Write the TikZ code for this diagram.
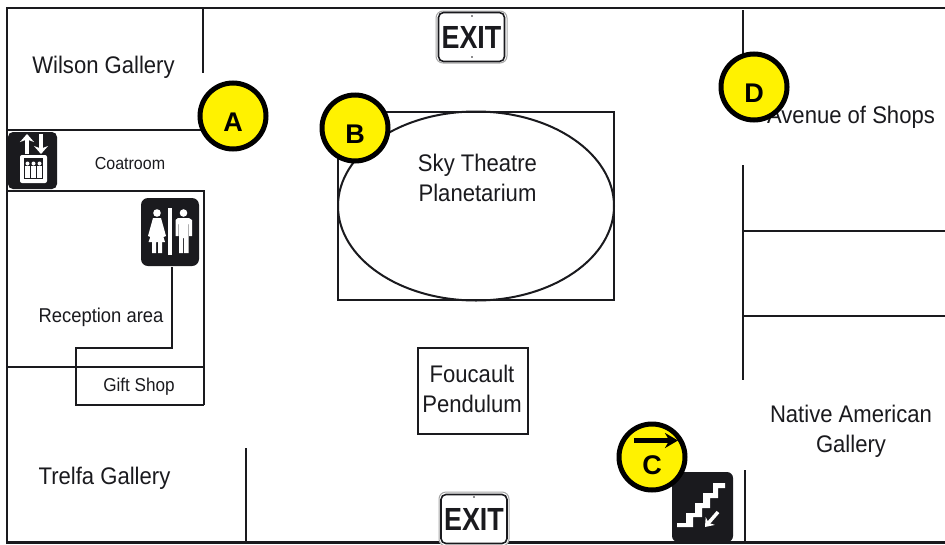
\documentclass[tikz,border=0pt]{standalone}
\usepackage{fontspec}
\setmainfont[FakeStretch=0.92]{Liberation Sans}
\newfontfamily\exitfont[FakeStretch=0.84]{Liberation Sans}
\newfontfamily\markfont{Liberation Sans}
\usetikzlibrary{arrows.meta}
\definecolor{ink}{HTML}{1A1A1E}
\tikzset{
  wall/.style={draw=ink,line width=2pt},
  lab/.style={text=ink,inner sep=0pt,align=center,font=\fontsize{24}{30}\selectfont},
  labs/.style={text=ink,inner sep=0pt,align=center,font=\fontsize{20}{22}\selectfont},
  marker/.style={circle,draw=black,fill=yellow,line width=5pt,minimum size=66pt,inner sep=0pt},
  letter/.style={inner sep=0pt,text=black,font=\markfont\fontsize{27}{30}\bfseries\selectfont},
  exitsign/.style={draw=ink,line width=1.6pt,fill=white,rounded corners=5pt,minimum width=66pt,minimum height=49pt,inner sep=0pt,text=ink,font=\exitfont\fontsize{32}{36}\bfseries\selectfont},
  exitrim/.style={draw=black!35,line width=1pt,fill=white,rounded corners=7pt},
  gline/.style={draw=white,line width=4.5pt}
}
\begin{document}
\begin{tikzpicture}[x=1pt,y=-1pt]
\useasboundingbox (0,0) rectangle (945,544);
\fill[white] (0,0) rectangle (945,544);
% outer walls
\draw[wall,line width=2.4pt] (945,8) -- (7,8) -- (7,544);
\draw[wall,line width=3pt] (7,542.5) -- (945,542.5);
% left rooms
\draw[wall] (203,9) -- (203,73);
\draw[wall] (7,130) -- (205,130);
\draw[wall] (7,191) -- (204,191) -- (204,405);
\draw[wall] (7,367) -- (204,367);
\draw[wall] (172,267) -- (172,348) -- (76,348) -- (76,405) -- (204,405);
\draw[wall] (246,448) -- (246,542);
% right rooms
\draw[wall] (743,10) -- (743,120);
\draw[wall] (743,165) -- (743,380);
\draw[wall] (743,231) -- (945,231);
\draw[wall] (743,316) -- (945,316);
\draw[wall] (745,470) -- (745,542);
% planetarium
\draw[wall] (338,112) rectangle (614,300);
\draw[wall] (476,206) ellipse [x radius=138,y radius=94.5];
% pendulum
\node[wall,minimum width=110pt,minimum height=86pt,inner sep=0pt] (pend) at (472.5,390.5) {};
\node[lab] (pendtext) at (472,388.5) {Foucault\\Pendulum};
% labels
\node[lab] (wilson) at (103.5,67) {Wilson Gallery};
\node[labs,font=\fontsize{17.4}{20}\selectfont] (coat) at (130,164) {Coatroom};
\node[labs] (recep) at (101,317.5) {Reception area};
\node[labs,font=\fontsize{18.6}{22}\selectfont] (gift) at (139,386.5) {Gift Shop};
\node[lab] (trelfa) at (104.5,478) {Trelfa Gallery};
\node[lab] (sky) at (477.5,177.5) {Sky Theatre\\Planetarium};
\node[lab] (avenue) at (851,117) {Avenue of Shops};
\node[lab] (native) at (851,431) {Native American\\Gallery};
% exit signs
\fill[exitrim] (436,11) rectangle (507,63);
\node[exitsign] (exit1) at (471.5,37) {EXIT};
\fill[ink] (472,16) circle (0.8pt) (472,57) circle (0.8pt);
\fill[exitrim] (439,492) rectangle (509,546);
\node[exitsign] (exit2) at (474,519) {EXIT};
\fill[ink] (474,497) circle (0.8pt);
% elevator sign
\fill[ink,rounded corners=5pt] (8,132) rectangle (57,189);
\fill[white,rounded corners=2pt] (20,155) rectangle (47,183);
\fill[ink] (24,158) rectangle (43,179);
\foreach \x in {27.5,33.5,39.5}{
  \fill[white] (\x,163.5) circle (2pt);
  \fill[white] (\x-2.3,166) rectangle (\x+2.3,178);
}
\draw[gline,-{Stealth[length=8pt,width=14pt]}] (27,154) -- (27,134);
\draw[gline,-{Stealth[length=8pt,width=14pt]}] (41,134) -- (41,154);
% restroom sign
\fill[ink,rounded corners=7pt] (141,198) rectangle (199,266);
\fill[white] (168,208) rectangle (172,255);
\fill[white] (157,213) circle (3.8pt);
\fill[white] (153,218) -- (161,218) -- (166,236) -- (163.5,237) -- (161.5,231) -- (165,242) -- (162,242) -- (162,253) -- (158,253) -- (158,242) -- (156,242) -- (156,253) -- (152,253) -- (152,242) -- (148.5,242) -- (152.5,231) -- (150.5,237) -- (148,236) -- cycle;
\fill[white] (183.5,213) circle (3.8pt);
\fill[white] (178,218) -- (189,218) -- (192,220) -- (192,236) -- (189,236) -- (189,224) -- (188.5,224) -- (188.5,253) -- (184.2,253) -- (184.2,238) -- (183,238) -- (183,253) -- (179,253) -- (179,224) -- (178.5,224) -- (178.5,236) -- (175.5,236) -- (175.5,220) -- cycle;
% stairs sign
\fill[ink,rounded corners=6pt] (672,472) rectangle (733,542);
\fill[white] (677,523) -- (686,523) -- (686,513) -- (695,513) -- (695,503) -- (703,503) -- (703,493) -- (713,493) -- (713,483) -- (725,483) -- (725,488) -- (718,488) -- (718,498) -- (710,498) -- (710,508) -- (702,508) -- (702,517) -- (693,517) -- (693,527) -- (677,527) -- cycle;
\draw[draw=white,line width=3.5pt,-{Stealth[length=8pt,width=12pt]}] (718,512) -- (705,527);
% markers
\node[marker,label={[letter,yshift=-6pt]center:A}] (A) at (233,116) {};
\node[marker,label={[letter,yshift=-6pt]center:B}] (B) at (355,128) {};
\node[marker,label={[letter,yshift=-8pt]center:C}] (C) at (652,457) {};
\node[marker,label={[letter,yshift=-6pt]center:D}] (D) at (754,87) {};
\coordinate (ctail) at (634,440.5);
\coordinate (chead) at (678,440.5);
\draw[black,line width=4.5pt,-{Stealth[length=13pt,width=15pt]}] (ctail) -- (chead);
\end{tikzpicture}
\end{document}
